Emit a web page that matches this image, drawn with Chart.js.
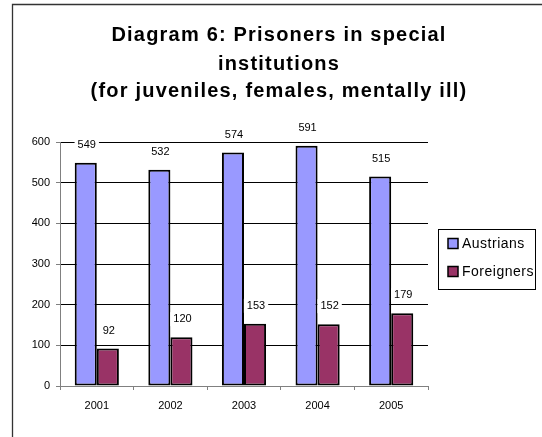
<!DOCTYPE html>
<html>
<head>
<meta charset="utf-8">
<script src="https://cdn.jsdelivr.net/npm/chart.js@4"></script>
<style>
  html, body { margin: 0; padding: 0; background: #fff; }
  canvas { display: block; }
</style>
</head>
<body>
<canvas id="myChart" width="542" height="437"></canvas>
<script>
const years = ['2001', '2002', '2003', '2004', '2005'];
const austrians = [549, 532, 574, 591, 515];
const foreigners = [92, 120, 153, 152, 179];
const titleLines = ['Diagram 6: Prisoners in special', 'institutions', '(for juveniles, females, mentally ill)'];

const FONT = '"Liberation Sans", Arial, sans-serif';

// cadre, titre, étiquettes et légende dessinés à la main
const decor = {
  id: 'decor',
  beforeDraw(chart) {
    const ctx = chart.ctx;
    ctx.save();
    ctx.fillStyle = '#fff';
    ctx.fillRect(0, 0, chart.width, chart.height);
    ctx.strokeStyle = '#333';
    ctx.lineWidth = 1.3;
    ctx.beginPath();
    ctx.moveTo(12.5, chart.height);
    ctx.lineTo(12.5, 4.5);
    ctx.lineTo(chart.width, 4.5);
    ctx.stroke();
    ctx.restore();
  },
  afterDatasetsDraw(chart) {
    const ctx = chart.ctx;
    ctx.save();
    ctx.font = '11px ' + FONT;
    ctx.textAlign = 'center';
    ctx.textBaseline = 'middle';
    chart.data.datasets.forEach((ds, i) => {
      chart.getDatasetMeta(i).data.forEach((bar, j) => {
        const txt = String(ds.data[j]);
        const x = bar.x + 1;
        const y = bar.y - 18;
        const w = ctx.measureText(txt).width + 6;
        ctx.fillStyle = '#fff';
        ctx.fillRect(x - w / 2, y - 7, w, 14);
        ctx.fillStyle = '#000';
        ctx.fillText(txt, x, y);
      });
    });
    ctx.restore();
  },
  afterDraw(chart) {
    const ctx = chart.ctx;
    ctx.save();
    // titre
    ctx.font = 'bold 20px ' + FONT;
    ctx.letterSpacing = '1.2px';
    ctx.textAlign = 'center';
    ctx.textBaseline = 'alphabetic';
    ctx.fillStyle = '#000';
    const baselines = [41, 70, 97];
    titleLines.forEach((t, i) => ctx.fillText(t, 279, baselines[i]));

    // légende
    ctx.letterSpacing = '0.5px';
    ctx.strokeStyle = '#000';
    ctx.lineWidth = 1;
    ctx.strokeRect(438.5, 229.5, 97, 60);
    ctx.font = '14px ' + FONT;
    ctx.textAlign = 'left';
    ctx.textBaseline = 'middle';
    const rows = [243.5, 271.5];
    chart.data.datasets.forEach((ds, i) => {
      ctx.fillStyle = ds.backgroundColor;
      ctx.fillRect(448, rows[i] - 5, 10, 10);
      ctx.lineWidth = 1.5;
      ctx.strokeRect(448, rows[i] - 5, 10, 10);
      ctx.fillStyle = '#000';
      ctx.fillText(ds.label, 462, rows[i] + 1);
    });
    ctx.restore();
  }
};

const canvas = document.getElementById('myChart');
const ctx = canvas.getContext('2d');
const myChart = new Chart(ctx, {
  type: 'bar',
  data: {
    labels: years,
    datasets: [{
      label: 'Austrians',
      data: austrians,
      backgroundColor: '#9999FF',
      borderColor: '#000',
      borderWidth: 2,
      borderSkipped: false
    }, {
      label: 'Foreigners',
      data: foreigners,
      backgroundColor: '#993366',
      borderColor: '#000',
      borderWidth: 2,
      borderSkipped: false
    }]
  },
  options: {
    responsive: false,
    animation: false,
    devicePixelRatio: 1,
    categoryPercentage: 0.6,
    barPercentage: 1,
    layout: { padding: { top: 142, right: 114, left: 0, bottom: 0 } },
    scales: {
      y: {
        min: 0,
        max: 600,
        ticks: { stepSize: 100, color: '#000', padding: 6, font: { family: FONT, size: 11 } },
        grid: {
          color: c => c.tick && c.tick.value === 0 ? 'rgba(0,0,0,0)' : '#000',
          tickColor: '#808080',
          tickLength: 4,
          lineWidth: 1
        },
        border: { color: '#808080', width: 1 },
        afterFit: s => { s.width = 60; }
      },
      x: {
        ticks: { color: '#000', padding: 9, font: { family: FONT, size: 11 } },
        grid: {
          offset: true,
          drawOnChartArea: false,
          tickColor: '#808080',
          tickLength: 4
        },
        border: { color: '#808080', width: 1 },
        afterFit: s => { s.height = 51; }
      }
    },
    plugins: {
      legend: { display: false },
      title: { display: false },
      tooltip: { enabled: false }
    }
  },
  plugins: [decor]
});
</script>
</body>
</html>
